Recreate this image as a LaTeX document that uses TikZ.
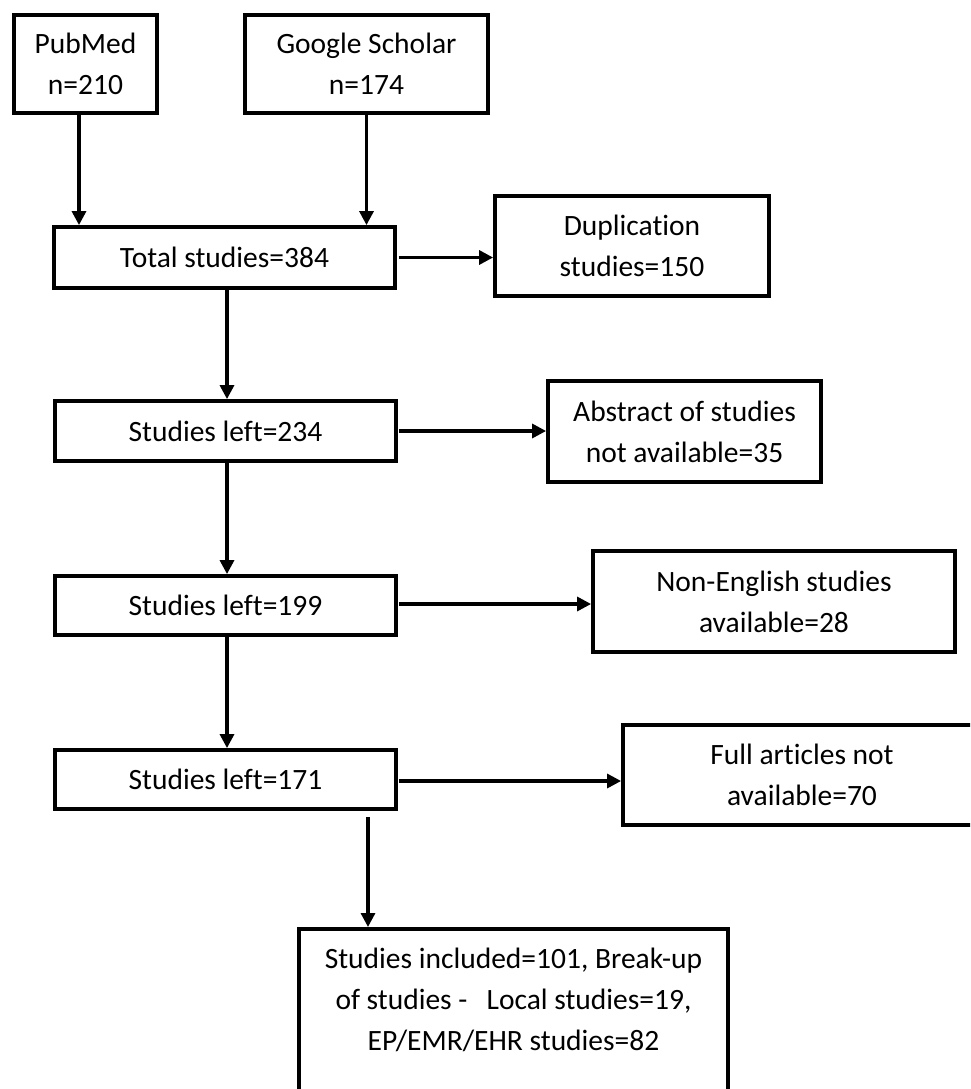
\documentclass[tikz,border=0pt]{standalone}
\usepackage{fontspec}
\setmainfont{Carlito}[Ligatures={NoCommon}]
\usetikzlibrary{arrows.meta}
\begin{document}
\begin{tikzpicture}[x=1pt,y=-1pt,
  lbl/.style={align=center, font=\fontsize{29.5}{41}\selectfont},
  box/.style={lbl, draw=black, line width=3.8pt, fill=white, inner sep=0pt},
  arr/.style={line width=3.2pt, -{Triangle[width=14pt,length=14pt]}}]
\clip (0,0) rectangle (970,1089);
\fill[white] (0,0) rectangle (970,1089);
% boxes
\node[box, minimum width=143pt, minimum height=98pt] (pub) at (85.5,64) {PubMed\\n=210};
\node[box, minimum width=243pt, minimum height=98pt] (gs) at (366.5,64) {Google Scholar\\n=174};
\node[box, minimum width=341pt, minimum height=61pt] (total) at (224.5,257.5) {Total studies=384};
\node[box, minimum width=274pt, minimum height=100pt] (dup) at (632,246) {Duplication\\studies=150};
\node[box, minimum width=341pt, minimum height=60pt] (s234) at (225.5,431) {Studies left=234};
\node[box, minimum width=273pt, minimum height=101pt] (abs) at (684.5,431.5) {Abstract of studies\\not available=35};
\node[box, minimum width=341pt, minimum height=59pt] (s199) at (225.5,605.5) {Studies left=199};
\node[box, minimum width=362pt, minimum height=101pt] (ne) at (774,601.5) {Non-English studies\\available=28};
\node[box, minimum width=341pt, minimum height=59pt] (s171) at (225.5,779.5) {Studies left=171};
\node[box, minimum width=358pt, minimum height=100pt] (full) at (802,775) {Full articles not\\available=70};
\node[box, minimum width=429pt, minimum height=190pt, anchor=north] (fin) at (513.5,927) {};
\node[lbl, inner sep=0pt] (fintxt) at (513.5,1000) {Studies included=101, Break-up\\of studies -\hspace{0.65em}Local studies=19,\\EP/EMR/EHR studies=82};
% connectors
\draw[arr] ([xshift=-6.5pt]pub.south) -- ([xshift=-6.5pt]pub.south |- total.north);
\draw[arr] (gs.south) -- (gs.south |- total.north);
\draw[arr] ([xshift=2pt]total.east) -- (total.east -| dup.west);
\draw[arr] ([xshift=2.5pt]total.south) -- ([xshift=2.5pt]total.south |- s234.north);
\draw[arr] ([xshift=1pt]s234.east) -- (s234.east -| abs.west);
\draw[arr] ([xshift=1.5pt]s234.south) -- ([xshift=1.5pt]s234.south |- s199.north);
\draw[arr] ([xshift=1pt,yshift=1.5pt]s199.east) -- ([yshift=1.5pt]s199.east -| ne.west);
\draw[arr] ([xshift=1.5pt]s199.south) -- ([xshift=1.5pt]s199.south |- s171.north);
\draw[arr] ([xshift=1pt,yshift=-1.5pt]s171.east) -- ([yshift=-1.5pt]s171.east -| full.west);
\coordinate (c171) at (368,817);
\draw[arr] (c171) -- (c171 |- fin.north);
\end{tikzpicture}
\end{document}
